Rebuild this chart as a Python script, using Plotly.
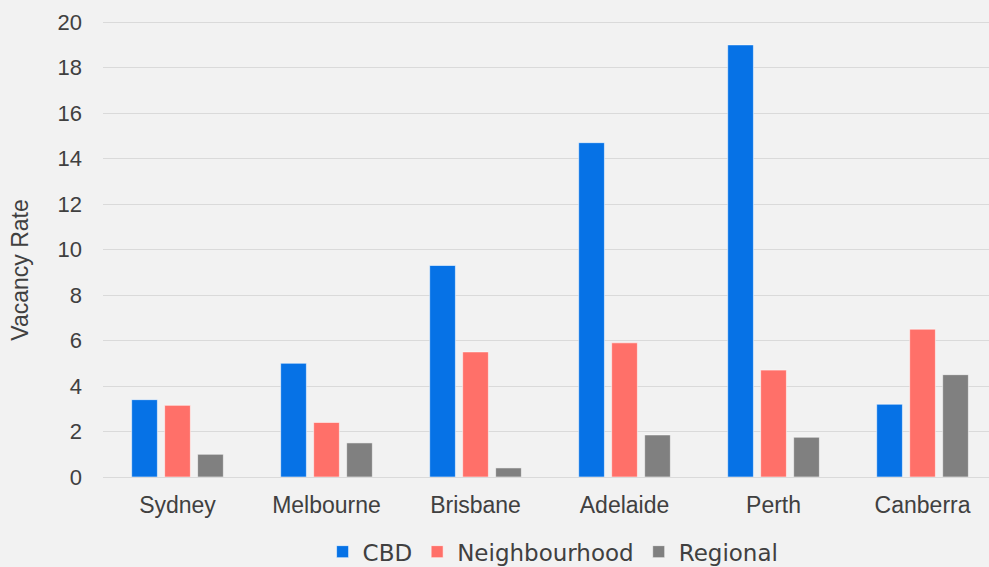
import plotly.graph_objects as go

# Office vacancy rates by city and market segment
cities = ["Sydney", "Melbourne", "Brisbane", "Adelaide", "Perth", "Canberra"]
cbd = [3.4, 5.0, 9.3, 14.7, 19.0, 3.2]
neighbourhood = [3.15, 2.4, 5.5, 5.9, 4.7, 6.5]
regional = [1.0, 1.5, 0.4, 1.85, 1.75, 4.5]
y_ticks = [0, 2, 4, 6, 8, 10, 12, 14, 16, 18, 20]

FONT = "Liberation Sans, Arial, sans-serif"
LEGEND_FONT = "DejaVu Sans, Verdana, sans-serif"
TEXT = "#404040"

series = [
    ("CBD", cbd, "#0672E6"),
    ("Neighbourhood", neighbourhood, "#FF7069"),
    ("Regional", regional, "#808080"),
]

fig = go.Figure()
for name, vals, color in series:
    fig.add_trace(go.Bar(
        x=cities, y=vals, name=name,
        marker=dict(color=color, line=dict(color="rgba(255,255,255,0.55)", width=1)),
    ))

fig.update_layout(
    width=989, height=567,
    margin=dict(l=103, r=0, t=21, b=90, autoexpand=False),
    paper_bgcolor="#F2F2F2", plot_bgcolor="#F2F2F2",
    barmode="group", bargap=0.336, bargroupgap=0.22,
    font=dict(family=FONT, color=TEXT, size=23),
    showlegend=True,
    legend=dict(
        orientation="h", x=0.508, xanchor="center",
        yref="container", y=0.027, yanchor="middle",
        font=dict(size=23, color=TEXT, family=LEGEND_FONT), bgcolor="rgba(0,0,0,0)",
        itemwidth=30, tracegroupgap=0,
    ),
    annotations=[dict(
        text="Vacancy Rate", textangle=-90, xref="paper", yref="paper",
        x=-0.094, y=0.454, xanchor="center", yanchor="middle", showarrow=False,
        font=dict(size=23, color=TEXT, family=FONT),
    )],
)
fig.update_xaxes(
    range=[-0.5, 5.446], showgrid=False, showline=False, ticks="", automargin=False,
    tickfont=dict(size=23, color=TEXT), ticklabelstandoff=12,
)
fig.update_yaxes(
    range=[0, 20.05], tickvals=y_ticks, showgrid=True, gridcolor="#DADADA", gridwidth=1.3,
    zeroline=True, zerolinecolor="#DADADA", zerolinewidth=1.3, showline=False, ticks="",
    automargin=False, tickfont=dict(size=22, color=TEXT), ticklabelstandoff=20,
)

fig.write_html("out.html")
